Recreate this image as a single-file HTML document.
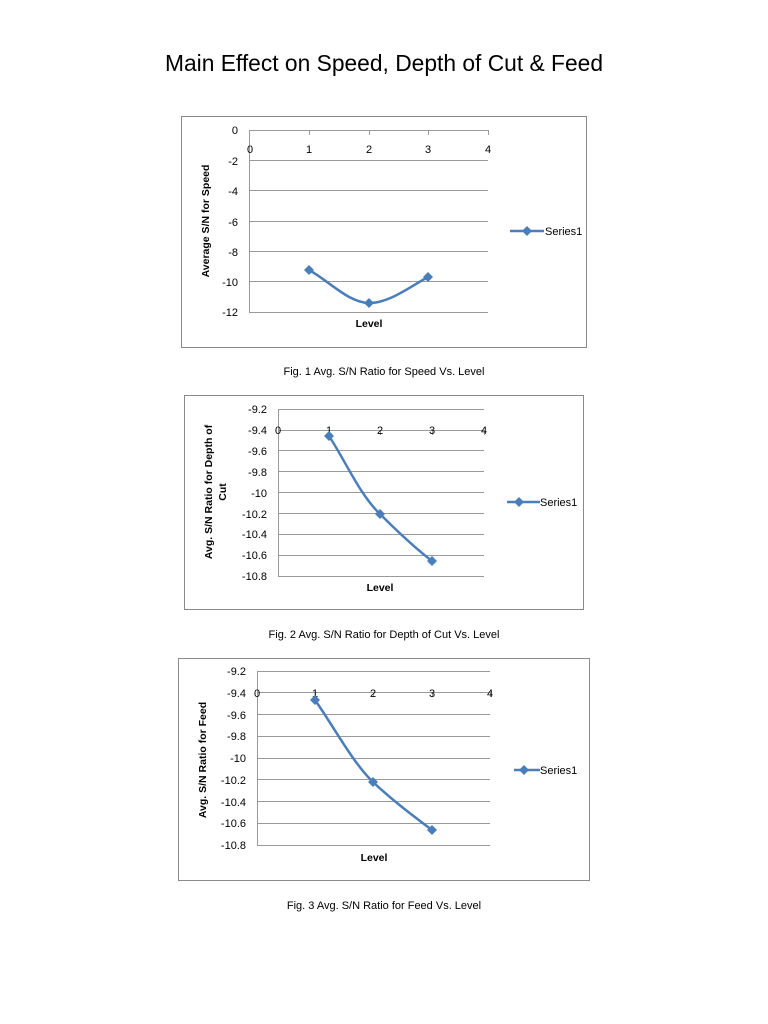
<!DOCTYPE html>
<html><head><meta charset="utf-8"><style>
html,body{margin:0;padding:0;background:#fff;}
svg{display:block;}
text{font-family:"Liberation Sans",sans-serif;fill:#000;}
.t{font-size:11px;}
.b{font-size:10.5px;font-weight:bold;}
</style></head><body>
<svg width="768" height="1024" viewBox="0 0 768 1024" xmlns="http://www.w3.org/2000/svg">
<defs><path id="d" d="M0,-5 L5,0 L0,5 L-5,0 Z" fill="#4a7ebb"/></defs>
<text x="384" y="71" font-size="22.8" text-anchor="middle">Main Effect on Speed, Depth of Cut &amp; Feed</text>

<!-- Chart 1 -->
<rect x="181.5" y="116.5" width="405" height="231" fill="#fff" stroke="#8a8a8a"/>
<g stroke="#9a9a9a" stroke-width="1">
<line x1="249" y1="160.5" x2="488" y2="160.5"/><line x1="249" y1="190.5" x2="488" y2="190.5"/>
<line x1="249" y1="221.5" x2="488" y2="221.5"/><line x1="249" y1="251.5" x2="488" y2="251.5"/>
<line x1="249" y1="281.5" x2="488" y2="281.5"/><line x1="249" y1="312.5" x2="488" y2="312.5"/>
<line x1="249" y1="130.5" x2="488" y2="130.5"/><line x1="249.5" y1="130" x2="249.5" y2="312"/>
<line x1="309.5" y1="130" x2="309.5" y2="135"/><line x1="369.5" y1="130" x2="369.5" y2="135"/>
<line x1="428.5" y1="130" x2="428.5" y2="135"/><line x1="488.5" y1="130" x2="488.5" y2="135"/>
</g>
<g class="t" text-anchor="end">
<text x="238" y="134">0</text><text x="238" y="165">-2</text><text x="238" y="195">-4</text>
<text x="238" y="226">-6</text><text x="238" y="256">-8</text><text x="238" y="286">-10</text><text x="238" y="316">-12</text>
</g>
<g class="t" text-anchor="middle">
<text x="250" y="153">0</text><text x="309" y="153">1</text><text x="369" y="153">2</text><text x="428" y="153">3</text><text x="488" y="153">4</text>
</g>
<text class="b" x="369" y="327" text-anchor="middle">Level</text>
<text class="b" transform="translate(209,221) rotate(-90)" text-anchor="middle">Average S/N for Speed</text>
<path d="M309,270 C329,281 349,303 369,303 C389,303 408,288 428,277" fill="none" stroke="#4a7ebb" stroke-width="2.5"/>
<use href="#d" x="309" y="270"/><use href="#d" x="369" y="303"/><use href="#d" x="428" y="277"/>
<line x1="510" y1="231" x2="544" y2="231" stroke="#4a7ebb" stroke-width="2.5"/><use href="#d" x="527" y="231"/>
<text class="t" x="545" y="235">Series1</text>
<text class="t" x="384" y="375" text-anchor="middle">Fig. 1 Avg. S/N Ratio for Speed Vs. Level</text>

<!-- Chart 2 -->
<rect x="184.5" y="395.5" width="399" height="214" fill="#fff" stroke="#8a8a8a"/>
<g stroke="#9a9a9a">
<line x1="278" y1="409.5" x2="484" y2="409.5"/><line x1="278" y1="450.5" x2="484" y2="450.5"/>
<line x1="278" y1="471.5" x2="484" y2="471.5"/><line x1="278" y1="492.5" x2="484" y2="492.5"/>
<line x1="278" y1="513.5" x2="484" y2="513.5"/><line x1="278" y1="534.5" x2="484" y2="534.5"/>
<line x1="278" y1="555.5" x2="484" y2="555.5"/><line x1="278" y1="576.5" x2="484" y2="576.5"/>
<line x1="278" y1="430.5" x2="484" y2="430.5"/><line x1="278.5" y1="409" x2="278.5" y2="576"/>
<line x1="329.5" y1="430" x2="329.5" y2="435"/><line x1="380.5" y1="430" x2="380.5" y2="435"/>
<line x1="432.5" y1="430" x2="432.5" y2="435"/><line x1="484.5" y1="430" x2="484.5" y2="435"/>
</g>
<g class="t" text-anchor="end">
<text x="267" y="413">-9.2</text><text x="267" y="434">-9.4</text><text x="267" y="455">-9.6</text>
<text x="267" y="476">-9.8</text><text x="267" y="497">-10</text><text x="267" y="518">-10.2</text>
<text x="267" y="538">-10.4</text><text x="267" y="559">-10.6</text><text x="267" y="580">-10.8</text>
</g>
<g class="t" text-anchor="middle">
<text x="278" y="434">0</text><text x="329" y="434">1</text><text x="380" y="434">2</text><text x="432" y="434">3</text><text x="484" y="434">4</text>
</g>
<text class="b" x="380" y="591" text-anchor="middle">Level</text>
<text class="b" transform="translate(212,492) rotate(-90)" text-anchor="middle">Avg. S/N Ratio for Depth of</text>
<text class="b" transform="translate(226,492) rotate(-90)" text-anchor="middle">Cut</text>
<path d="M329,436 C346,462 360,495 380,514 C397,531 415,548 432,561" fill="none" stroke="#4a7ebb" stroke-width="2.5"/>
<use href="#d" x="329" y="436"/><use href="#d" x="380" y="514"/><use href="#d" x="432" y="561"/>
<line x1="507" y1="502" x2="540" y2="502" stroke="#4a7ebb" stroke-width="2.5"/><use href="#d" x="519" y="502"/>
<text class="t" x="540" y="506">Series1</text>
<text class="t" x="384" y="638" text-anchor="middle">Fig. 2 Avg. S/N Ratio for Depth of Cut Vs. Level</text>

<!-- Chart 3 -->
<rect x="178.5" y="658.5" width="411" height="222" fill="#fff" stroke="#8a8a8a"/>
<g stroke="#9a9a9a">
<line x1="257" y1="671.5" x2="490" y2="671.5"/><line x1="257" y1="714.5" x2="490" y2="714.5"/>
<line x1="257" y1="736.5" x2="490" y2="736.5"/><line x1="257" y1="758.5" x2="490" y2="758.5"/>
<line x1="257" y1="779.5" x2="490" y2="779.5"/><line x1="257" y1="801.5" x2="490" y2="801.5"/>
<line x1="257" y1="823.5" x2="490" y2="823.5"/><line x1="257" y1="845.5" x2="490" y2="845.5"/>
<line x1="257" y1="692.5" x2="490" y2="692.5"/><line x1="257.5" y1="671" x2="257.5" y2="845"/>
<line x1="315.5" y1="692" x2="315.5" y2="697"/><line x1="373.5" y1="692" x2="373.5" y2="697"/>
<line x1="432.5" y1="692" x2="432.5" y2="697"/><line x1="490.5" y1="692" x2="490.5" y2="697"/>
</g>
<g class="t" text-anchor="end">
<text x="246" y="675">-9.2</text><text x="246" y="697">-9.4</text><text x="246" y="719">-9.6</text>
<text x="246" y="740">-9.8</text><text x="246" y="762">-10</text><text x="246" y="784">-10.2</text>
<text x="246" y="806">-10.4</text><text x="246" y="827">-10.6</text><text x="246" y="849">-10.8</text>
</g>
<g class="t" text-anchor="middle">
<text x="257" y="697">0</text><text x="315" y="697">1</text><text x="373" y="697">2</text><text x="432" y="697">3</text><text x="490" y="697">4</text>
</g>
<text class="b" x="374" y="861" text-anchor="middle">Level</text>
<text class="b" transform="translate(206,760) rotate(-90)" text-anchor="middle">Avg. S/N Ratio for Feed</text>
<path d="M315,700 C334,727 353,763 373,782 C392,800 412,815 432,830" fill="none" stroke="#4a7ebb" stroke-width="2.5"/>
<use href="#d" x="315" y="700"/><use href="#d" x="373" y="782"/><use href="#d" x="432" y="830"/>
<line x1="514" y1="770" x2="540" y2="770" stroke="#4a7ebb" stroke-width="2.5"/><use href="#d" x="524" y="770"/>
<text class="t" x="540" y="774">Series1</text>
<text class="t" x="384" y="909" text-anchor="middle">Fig. 3 Avg. S/N Ratio for Feed Vs. Level</text>
</svg>
</body></html>
